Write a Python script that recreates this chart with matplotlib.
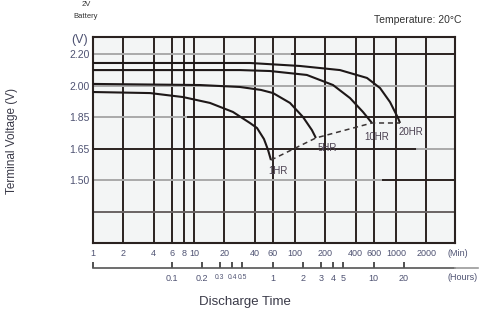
import numpy as np
import matplotlib
matplotlib.use('Agg')
import matplotlib.pyplot as plt
from matplotlib.ticker import NullLocator
from matplotlib.lines import Line2D

plt.rcParams['font.family'] = ['Liberation Sans', 'DejaVu Sans']

# ---------------- data ----------------
min_ticks = [1, 2, 4, 6, 8, 10, 20, 40, 60, 100, 200, 400, 600, 1000, 2000]
min_labels = [str(m) for m in min_ticks]
hour_ticks = [1 / 60, 0.1, 0.2, 0.3, 0.4, 0.5, 1, 2, 3, 4, 5, 10, 20]
hour_labels = ['', '0.1', '0.2', '0.3', '0.4', '0.5', '1', '2', '3', '4', '5', '10', '20']
volt_ticks = [1.35, 1.50, 1.65, 1.85, 2.00, 2.20]
volt_labels = ['', '1.50', '1.65', '1.85', '2.00', '2.20']
# schematic (equally spaced) voltage grid of the datasheet
volt_knots = [1.20, 1.35, 1.50, 1.65, 1.85, 2.00, 2.20, 2.40]

rate_names = ['1HR', '5HR', '10HR', '20HR']
t_1hr = [1, 3.67, 7.78, 14.4, 24.3, 35.8, 42.1, 49.3, 54.1, 57.8]
v_1hr = [1.969, 1.964, 1.945, 1.917, 1.874, 1.812, 1.780, 1.710, 1.643, 1.595]
t_5hr = [1, 11.5, 28.5, 46, 60.6, 89.2, 120, 147, 161]
v_5hr = [2.010, 2.003, 1.993, 1.979, 1.964, 1.917, 1.850, 1.767, 1.717]
t_10hr = [1, 28.5, 56.5, 131, 238, 351, 471, 578]
v_10hr = [2.098, 2.098, 2.092, 2.067, 2.003, 1.940, 1.874, 1.812]
t_20hr = [1, 35.8, 112, 279, 516, 695, 873, 1047, 1096]
v_20hr = [2.143, 2.143, 2.124, 2.098, 2.048, 1.988, 1.921, 1.844, 1.812]

times = [t_1hr, t_5hr, t_10hr, t_20hr]
volts = [v_1hr, v_5hr, v_10hr, v_20hr]

# ---------------- style ----------------
DARK = '#2a2220'
GRAY = '#a9a9a9'
MID = '#6a6464'
TXT = '#3a3a48'
TICK = '#4e5272'

fig = plt.figure(figsize=(4.82, 3.14), dpi=100)
ax = fig.add_axes([93 / 482, 1 - 243 / 314, 362 / 482, 206 / 314])
ax.set_facecolor('#f3f5f5')

pos = np.arange(len(volt_knots), dtype=float)


def fwd(v):
    return np.interp(v, volt_knots, pos)


def inv(p):
    return np.interp(p, pos, volt_knots)


ax.set_xscale('log')
ax.set_yscale('function', functions=(fwd, inv))
ax.set_xlim(1, 10 ** (362 / 101))
ax.set_ylim(1.20, float(inv(6.54)))

# vertical grid
for m in min_ticks[1:]:
    ax.axvline(m, color=DARK, lw=1.4, zorder=1)

# horizontal grid (scanned look: partly grey, partly dark)
hsegs = {
    2.20: [(0, 0.55, GRAY), (0.55, 1, DARK)],
    2.00: [(0, 1, GRAY)],
    1.85: [(0, 0.262, GRAY), (0.262, 1, DARK)],
    1.65: [(0, 0.895, DARK), (0.895, 1, GRAY)],
    1.50: [(0, 0.80, GRAY), (0.80, 1, DARK)],
    1.35: [(0, 1, MID)],
}
for v, segs in hsegs.items():
    for x0, x1, c in segs:
        ax.axhline(v, x0, x1, color=c, lw=1.4, zorder=1)

for s in ax.spines.values():
    s.set_color(DARK)
    s.set_linewidth(1.5)

# discharge curves
ends_t, ends_v = [], []
label_off = [(7, -11), (11, -10), (5, -14), (11, -9)]
for name, t, v, off in zip(rate_names, times, volts, label_off):
    ax.plot(t, v, color='#1e1818', lw=1.5, zorder=3, solid_capstyle='butt')
    ends_t.append(t[-1])
    ends_v.append(v[-1])
    ax.annotate(name, (t[-1], v[-1]), xytext=off, textcoords='offset pixels',
                ha='center', va='center', fontsize=7, color='#4a4050', zorder=4)

ax.plot(ends_t, ends_v, color='#3a3434', lw=1.1, ls=(0, (3.3, 2.5)), zorder=3)

# ticks
ax.set_xticks(min_ticks)
ax.set_xticklabels(min_labels)
ax.xaxis.set_minor_locator(NullLocator())
ax.tick_params(axis='x', length=0, pad=4.5, labelsize=6.5, labelcolor=TICK)
ax.set_yticks(volt_ticks)
ax.set_yticklabels(volt_labels)
ax.yaxis.set_minor_locator(NullLocator())
ax.tick_params(axis='y', length=0, pad=2.5, labelsize=7.5, labelcolor=TICK)

# hours axis
sec = ax.secondary_xaxis(-25 / 206, functions=(lambda m: m / 60, lambda h: h * 60))
sec.set_xticks(hour_ticks)
sec.set_xticklabels(hour_labels)
sec.xaxis.set_minor_locator(NullLocator())
sec.spines['bottom'].set_color('#555555')
sec.spines['bottom'].set_linewidth(1.2)
sec.tick_params(axis='x', direction='in', length=4.5, width=1.2, color='#333333',
                pad=4.5, labelsize=6.5, labelcolor=TICK)
# the crowded 0.3 / 0.4 / 0.5 labels are set a little smaller
for lab in sec.get_xticklabels():
    if lab.get_text() in ('0.3', '0.4', '0.5'):
        lab.set_fontsize(4.9)
fig.add_artist(Line2D([455 / 482, 478 / 482], [1 - 268 / 314] * 2,
                      color='#9a9a9a', lw=1.2))

# texts
fig.text(458 / 482, 1 - 254 / 314, '(Min)', ha='center', va='center',
         fontsize=6.5, color=TICK)
fig.text(463 / 482, 1 - 278 / 314, '(Hours)', ha='center', va='center',
         fontsize=6.5, color=TICK)
fig.text(245 / 482, 1 - 302 / 314, 'Discharge Time', ha='center', va='center',
         fontsize=9.5, color=TXT)
fig.text(12 / 482, 1 - 141 / 314, 'Terminal Voltage (V)', ha='center', va='center',
         rotation=90, fontsize=8.5, color=TXT)
fig.text(80 / 482, 1 - 40 / 314, '(V)', ha='center', va='center',
         fontsize=9, color=TICK)
fig.text(86 / 482, 1 - 5 / 314, '2V', ha='center', va='center',
         fontsize=5.5, color='#333333')
fig.text(86 / 482, 1 - 16 / 314, 'Battery', ha='center', va='center',
         fontsize=5.5, color='#333333')
fig.text(461 / 482, 1 - 20 / 314, 'Temperature: 20°C', ha='right', va='center',
         fontsize=7.5, color='#333333')

fig.savefig('out.png', dpi=100, facecolor='white')
